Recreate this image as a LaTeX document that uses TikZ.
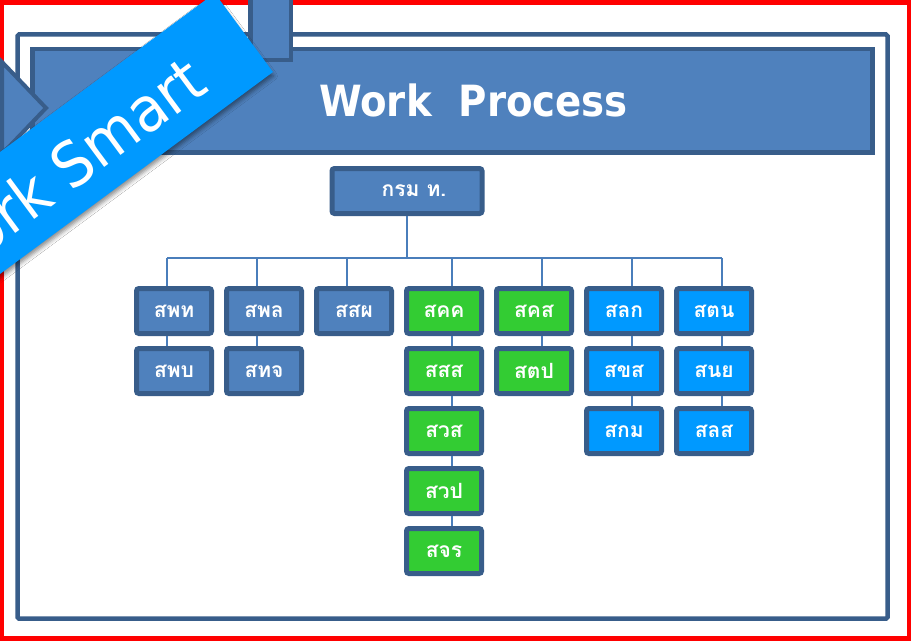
\documentclass[tikz,border=0pt]{standalone}
\usepackage{fontspec}
\setmainfont{DejaVu Sans}
\newfontfamily\thaifont[Script=Thai]{Loma}
\usetikzlibrary{shadows.blur}

\definecolor{boxfill}{HTML}{4F81BD}
\definecolor{boxedge}{HTML}{385D8A}
\definecolor{grnfill}{HTML}{33CC33}
\definecolor{skyfill}{HTML}{0099FF}
\definecolor{wirecol}{HTML}{4A7EBB}

\begin{document}
\begin{tikzpicture}[x=1pt,y=-1pt,
  unit/.style={draw=boxedge, line width=5pt, rounded corners=2.5pt,
    minimum width=75pt, minimum height=45pt, inner sep=0pt, text=white,
    font=\thaifont\bfseries\fontsize{21}{25}\selectfont},
  navybox/.style={unit, fill=boxfill},
  grnbox/.style={unit, fill=grnfill},
  skybox/.style={unit, fill=skyfill},
  wire/.style={draw=wirecol, line width=1.6pt},
  panel/.style={fill=boxfill, draw=boxedge, line width=4.5pt}]

\useasboundingbox (0,0) rectangle (913,642);
\clip (0,0) rectangle (913,642);
\fill[white] (0,0) rectangle (913,642);

% frames
\draw[red, line width=4.5pt] (2.2,2.5) rectangle (909,638.7);
\draw[boxedge, line width=4.5pt, rounded corners=1.5pt] (17.5,34.5) rectangle (887.5,618.7);

% header banner
\draw[panel] (32.5,49) rectangle (872.5,152.5);
\node[text=white, xscale=0.9, font=\bfseries\fontsize{43}{50}\selectfont] (title) at (473.5,100) {Work\ \ Process};

% tab hanging from the top edge and the arrow on the left
\draw[panel] (250.5,-5) rectangle (290.8,59.8);
\draw[panel, line width=4pt] (2,62) -- (46,108) -- (2,154) -- cycle;

% org chart
\node[navybox, minimum width=150pt] (top) at (407,191) {\hspace*{14pt}กรม ท.};

\node[navybox] (spt) at (174,311) {สพท};
\node[navybox] (spl) at (264,311) {สพล};
\node[navybox] (ssp) at (354,311) {สสผ};
\node[grnbox]  (skk) at (444,311) {สคค};
\node[grnbox]  (sks) at (534,311) {สคส};
\node[skybox]  (slk) at (624,311) {สลก};
\node[skybox]  (stn) at (714,311) {สตน};

\node[navybox] (spb) at (174,371) {สพบ};
\node[navybox] (stj) at (264,371) {สทจ};
\node[grnbox]  (sss) at (444,371) {สสส};
\node[grnbox]  (stp) at (534,371) {สตป};
\node[skybox]  (sxs) at (624,371) {สขส};
\node[skybox]  (sny) at (714,371) {สนย};

\node[grnbox]  (svs) at (444,431) {สวส};
\node[skybox]  (skm) at (624,431) {สกม};
\node[skybox]  (sls) at (714,431) {สลส};

\node[grnbox]  (svp) at (444,491) {สวป};
\node[grnbox]  (sjr) at (444,551) {สจร};

% connectors
\coordinate (bus) at (0,258);
\draw[wire] (top.south) -- (top.south |- bus);
\draw[wire] ([xshift=-7pt]spt.north |- bus) -- ([xshift=8pt]stn.north |- bus);
\foreach \n/\o in {spt/-7,spl/-7,ssp/-7,skk/8,sks/8,slk/8,stn/8}
  \draw[wire] ([xshift=\o pt]\n.north) -- ([xshift=\o pt]\n.north |- bus);
\foreach \a/\b/\o in {spt/spb/-7, spl/stj/-7, skk/sss/8, sss/svs/8, svs/svp/8,
    svp/sjr/8, sks/stp/8, slk/sxs/8, sxs/skm/8, stn/sny/8, sny/sls/8}
  \draw[wire] ([xshift=\o pt]\a.south) -- ([xshift=\o pt]\b.north);

% diagonal ribbon
\begin{scope}[shift={(273,72)}, rotate=36.5]
  \fill[skyfill, blur shadow={shadow xshift=0.5pt, shadow yshift=-4pt,
      shadow blur radius=4pt, shadow opacity=45}]
    (-700pt,0pt) rectangle (0pt,98pt);
  \node[anchor=base east, rotate=36.5, text=white, inner sep=0pt,
    font=\fontsize{62}{70}\selectfont] (smart) at (-61pt,23pt)
    {\scalebox{0.92}[1]{Work Smart}};
\end{scope}
\end{tikzpicture}
\end{document}
